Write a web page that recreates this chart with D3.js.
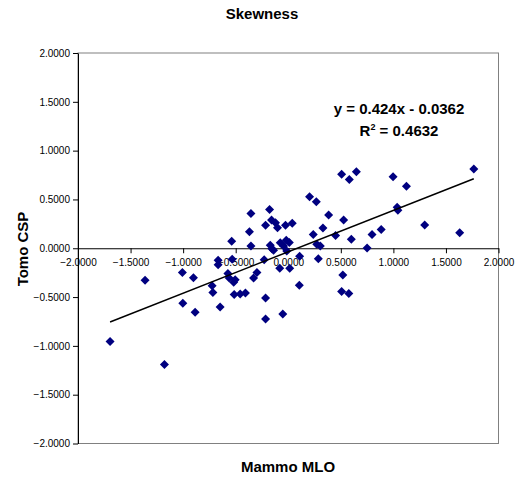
<!DOCTYPE html>
<html>
<head>
<meta charset="utf-8">
<script src="https://cdn.jsdelivr.net/npm/d3@7"></script>
<style>
  body { margin: 0; background: #fff; }
  text { font-family: Arial, "Liberation Sans", sans-serif; }
  .title { font-size: 15px; font-weight: bold; }
  .axis-label { font-size: 15px; font-weight: bold; }
  .tick text { font-size: 10px; fill: #000; }
</style>
</head>
<body>
<div id="chart"></div>
<script>
// data points (mammo MLO skewness vs tomo CSP skewness)
const mammoMLO = [
  -1.695, -1.362, -1.178, -1.007, -0.902, -1.003, -0.886, -0.724, -0.717, -0.667,
  -0.667, -0.648, -0.574, -0.562, -0.533, -0.538, -0.519, -0.505, -0.514, -0.457,
  -0.407, -0.355, -0.369, -0.355, -0.330, -0.298, -0.216, -0.216, -0.229, -0.178,
  -0.216, -0.159, -0.121, -0.102, -0.026, 0.038, -0.171, -0.155, -0.140, -0.076,
  -0.019, 0.010, -0.045, -0.014, -0.081, 0.014, 0.105, -0.052, 0.108, 0.286,
  0.271, 0.305, 0.238, 0.450, 0.600, 0.750, 0.797, 0.884, 0.519, 0.508,
  0.576, 0.203, 0.267, 0.384, 0.527, 0.330, 0.508, 0.581, 0.648, 0.997,
  1.124, 1.036, 1.043, 1.765, 1.298, 1.631
];
const tomoCSP = [
  -0.954, -0.327, -1.191, -0.248, -0.303, -0.564, -0.656, -0.385, -0.452, -0.122,
  -0.170, -0.602, -0.258, -0.306, -0.112, 0.071, -0.347, -0.323, -0.474, -0.469,
  -0.459, 0.023, 0.168, 0.357, -0.306, -0.248, -0.510, -0.724, -0.117, 0.398,
  0.235, 0.289, 0.262, 0.211, 0.235, 0.255, 0.031, -0.005, -0.020, 0.056,
  0.082, 0.058, 0.023, -0.028, -0.204, -0.204, -0.378, -0.673, -0.082, -0.107,
  0.041, 0.023, 0.141, 0.130, 0.092, 0.003, 0.141, 0.192, -0.273, -0.442,
  -0.464, 0.528, 0.477, 0.340, 0.289, 0.207, 0.758, 0.704, 0.783, 0.733,
  0.636, 0.421, 0.388, 0.813, 0.238, 0.158
];

// trendline shown in the chart
const slope = 0.424;
const intercept = -0.0362;
const rSquared = "0.4632";

// tick values for both axes
const ticks = [-2, -1.5, -1, -0.5, 0, 0.5, 1, 1.5, 2];

const data = mammoMLO.map((x, i) => ({ x: x, y: tomoCSP[i] }));

// svg setup
const width = 519;
const height = 478;
const margin = { top: 53, right: 20.5, bottom: 34.5, left: 78 };
const innerW = width - margin.left - margin.right;
const innerH = height - margin.top - margin.bottom;

const svg = d3.select("#chart")
  .append("svg")
  .attr("width", width)
  .attr("height", height);

const g = svg.append("g")
  .attr("transform", `translate(${margin.left},${margin.top})`);

// scales
const x = d3.scaleLinear().domain([-2, 2]).range([0, innerW]);
const y = d3.scaleLinear().domain([-2, 2]).range([innerH, 0]);

// plot area frame (gray, like excel)
g.append("rect")
  .attr("x", 0).attr("y", 0)
  .attr("width", innerW).attr("height", innerH)
  .attr("fill", "#fff")
  .attr("stroke", "#808080")
  .attr("stroke-width", 1);

// y axis on the left
const yAxis = g.append("g")
  .call(d3.axisLeft(y).tickValues(ticks).tickSize(5).tickSizeOuter(0)
    .tickFormat(d3.format(".4f")));
yAxis.select(".domain").attr("stroke", "#000");
yAxis.selectAll(".tick line").attr("stroke", "#000");
yAxis.selectAll(".tick text").attr("x", -8);

// x axis crossing at y = 0
const xAxis = g.append("g")
  .attr("transform", `translate(0,${y(0)})`)
  .call(d3.axisBottom(x).tickValues(ticks).tickSize(5).tickSizeOuter(0)
    .tickFormat(d3.format(".4f")));
xAxis.select(".domain").attr("stroke", "#000");
xAxis.selectAll(".tick line").attr("stroke", "#000");
xAxis.selectAll(".tick text").attr("y", 11);

// diamond markers
const diamond = "M0,-4.5L4.5,0L0,4.5L-4.5,0Z";
g.selectAll(".pt")
  .data(data)
  .enter()
  .append("path")
  .attr("class", "pt")
  .attr("d", diamond)
  .attr("transform", d => `translate(${x(d.x)},${y(d.y)})`)
  .attr("fill", "#000080");

// linear trendline across the data range
const [xMin, xMax] = d3.extent(mammoMLO);
const trend = [xMin, xMax].map(v => ({ x: v, y: slope * v + intercept }));
g.append("path")
  .datum(trend)
  .attr("fill", "none")
  .attr("stroke", "#000")
  .attr("stroke-width", 1.5)
  .attr("d", d3.line().x(d => x(d.x)).y(d => y(d.y)));

// equation + r squared
svg.append("text")
  .attr("class", "title")
  .attr("x", 399)
  .attr("y", 114)
  .attr("text-anchor", "middle")
  .text(`y = ${slope}x - ${Math.abs(intercept)}`);
const r2 = svg.append("text")
  .attr("class", "title")
  .attr("x", 399)
  .attr("y", 136)
  .attr("text-anchor", "middle");
r2.append("tspan").text("R");
r2.append("tspan").attr("font-size", "9px").attr("dy", -6).text("2");
r2.append("tspan").attr("dy", 6).text(` = ${rSquared}`);

// title and axis labels
svg.append("text")
  .attr("class", "title")
  .attr("x", 262)
  .attr("y", 19)
  .attr("text-anchor", "middle")
  .text("Skewness");
svg.append("text")
  .attr("class", "axis-label")
  .attr("x", 288)
  .attr("y", 472)
  .attr("text-anchor", "middle")
  .text("Mammo MLO");
svg.append("text")
  .attr("class", "axis-label")
  .attr("transform", "rotate(-90)")
  .attr("x", -249)
  .attr("y", 28)
  .attr("text-anchor", "middle")
  .text("Tomo CSP");
</script>
</body>
</html>
